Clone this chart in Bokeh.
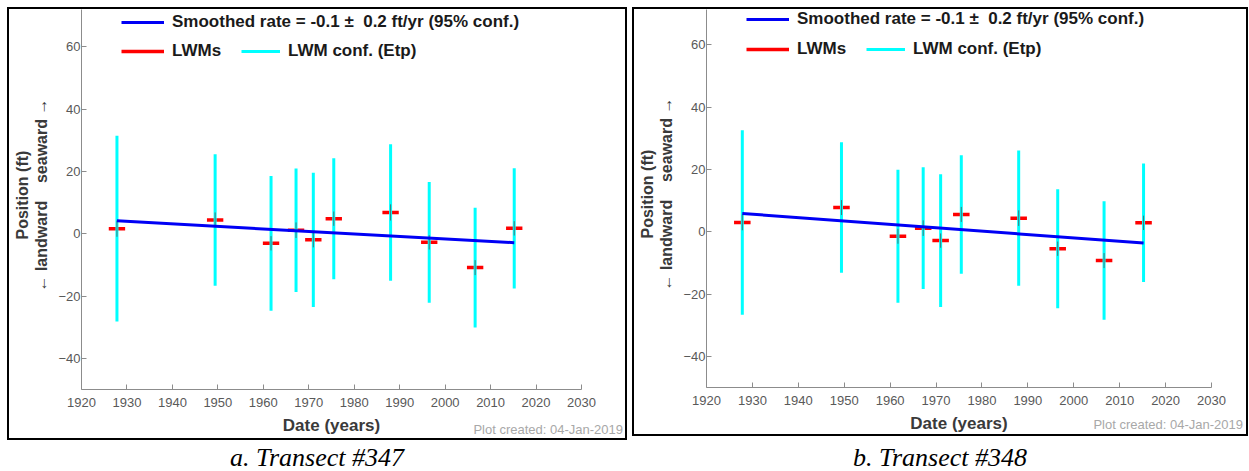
from bokeh.plotting import figure
from bokeh.models import Legend, LegendItem, Div, FixedTicker, Range1d, LinearAxis, Spacer
from bokeh.layouts import row, column
from bokeh.embed import file_html
from bokeh.resources import INLINE

# ---------------- data ----------------
years = [1927.8, 1949.4, 1961.7, 1967.2, 1971.0, 1975.5, 1988.0, 1996.5, 2006.6, 2015.2]

lwm_347 = [1.7, 4.5, -3.0, 1.2, -1.9, 4.9, 6.9, -2.7, -10.8, 1.8]
conf_347 = [29.8, 21.1, 21.6, 19.8, 21.5, 19.4, 21.9, 19.4, 19.2, 19.3]
unc_347 = [2.6, 2.4, 2.3, 2.5, 2.4, 2.3, 2.6, 2.3, 2.4, 2.3]
trend_347 = [4.2, -2.8]

lwm_348 = [3.0, 7.8, -1.4, 1.2, -2.8, 5.6, 4.4, -5.4, -9.2, 2.9]
conf_348 = [29.6, 20.9, 21.3, 19.5, 21.3, 19.0, 21.7, 19.1, 19.0, 19.0]
unc_348 = [2.5, 2.4, 2.4, 2.5, 2.3, 2.4, 2.5, 2.3, 2.4, 2.3]
trend_348 = [5.9, -3.6]

trend_years = [1927.8, 2015.2]

x_ticks = [1920, 1930, 1940, 1950, 1960, 1970, 1980, 1990, 2000, 2010, 2020, 2030]
y_ticks = [-40, -20, 0, 20, 40, 60]

rate_label = "Smoothed rate = -0.1 \u00b1\u00a0 0.2 ft/yr (95% conf.)"
lwm_label = "LWMs"
conf_label = "LWM conf. (Etp)"
x_label = "Date (years)"
y_label1 = "\u00a0\u00a0Position (ft)"
y_label2 = "\u00a0\u00a0\u2190 landward\u00a0\u00a0\u00a0\u00a0seaward \u2192"
created = "Plot created: 04-Jan-2019"
captions = ["a. Transect #347", "b. Transect #348"]

FONT = "Liberation Sans"
BLUE = "#0000F5"
RED = "#FF0000"
CYAN = "#00FFFF"
AXIS = "#8c8c8c"
DASH_HALF = 1.8  # half length of the LWM dash, in years


def panel(lwm, conf, unc, trend, y_lo, y_hi, w, h, mb_left, mb_right, mb_bottom, leg_rows):
    p = figure(width=w, height=h, output_backend="svg", toolbar_location=None,
               title=None, x_range=Range1d(1920, 2030), y_range=Range1d(y_lo, y_hi),
               min_border_left=mb_left, min_border_right=mb_right,
               min_border_top=0, min_border_bottom=mb_bottom,
               outline_line_color=None, background_fill_color="white",
               border_fill_color="white")
    p.styles = {"border": "2px solid black", "box-sizing": "content-box"}
    frame_h = h - mb_bottom

    lo = [m - c for m, c in zip(lwm, conf)]
    hi = [m + c for m, c in zip(lwm, conf)]
    ulo = [m - u for m, u in zip(lwm, unc)]
    uhi = [m + u for m, u in zip(lwm, unc)]
    dx0 = [x - DASH_HALF for x in years]
    dx1 = [x + DASH_HALF for x in years]

    dashes = p.segment(x0=dx0, y0=lwm, x1=dx1, y1=lwm, line_width=3.5, line_color=RED)
    bars = p.segment(x0=years, y0=lo, x1=years, y1=hi, line_width=3, line_color=CYAN)
    p.segment(x0=years, y0=ulo, x1=years, y1=uhi, line_width=1, line_color="#555555",
              line_alpha=0.8)
    tl = p.line(trend_years, trend, line_width=3, line_color=BLUE)

    def add_leg(rend, label, vx, center, gw):
        lg = Legend(items=[LegendItem(label=label, renderers=[rend])],
                    location=(vx, frame_h - center - 11), orientation="horizontal",
                    padding=0, margin=0, spacing=0, label_standoff=8,
                    glyph_width=gw, glyph_height=22, label_height=22,
                    border_line_color=None, background_fill_alpha=0,
                    label_text_font=FONT, label_text_font_size="17px",
                    label_text_font_style="bold", label_text_color="#1a1a1a")
        p.add_layout(lg)

    add_leg(tl, rate_label, 40, leg_rows[0], 43)
    add_leg(dashes, lwm_label, 40, leg_rows[1], 43)
    add_leg(bars, conf_label, 160, leg_rows[1], 39)

    for ax in (p.xaxis[0], p.yaxis[0]):
        ax.axis_line_color = AXIS
        ax.major_tick_line_color = AXIS
        ax.minor_tick_line_color = None
        ax.major_tick_in = 5
        ax.major_tick_out = 0
        ax.major_label_text_font = FONT
        ax.major_label_text_font_size = "13px"
        ax.major_label_text_color = "#595959"
        ax.axis_label_text_font = FONT
        ax.axis_label_text_font_style = "bold"
        ax.axis_label_text_color = "#3a3a3a"
    p.xaxis.ticker = FixedTicker(ticks=x_ticks)
    p.yaxis.ticker = FixedTicker(ticks=y_ticks)
    p.xaxis.major_label_standoff = 8
    p.yaxis.major_label_standoff = 1
    p.xaxis.axis_label = x_label
    p.xaxis.axis_label_standoff = 6
    p.xaxis.axis_label_text_font_size = "17px"
    p.yaxis.axis_label = y_label2
    p.yaxis.axis_label_standoff = 5
    p.yaxis.axis_label_text_font_size = "16px"

    outer = LinearAxis(ticker=FixedTicker(ticks=[]), axis_label=y_label1,
                       axis_line_color=None, major_tick_line_color=None,
                       minor_tick_line_color=None, major_tick_in=0, major_tick_out=0,
                       major_label_standoff=0, axis_label_standoff=0,
                       axis_label_text_font=FONT, axis_label_text_font_size="16px",
                       axis_label_text_font_style="bold", axis_label_text_color="#3a3a3a")
    p.add_layout(outer, "left")

    p.xgrid.visible = False
    p.ygrid.visible = False
    return p


p1 = panel(lwm_347, conf_347, unc_347, trend_347, -49.9, 72.0, 616, 429, 72, 48, 53,
           (9, 37.5))
p2 = panel(lwm_348, conf_348, unc_348, trend_348, -49.9, 71.3, 612, 425, 72, 39, 51,
           (5.5, 35.5))

cap_style = {"font-family": "'Liberation Serif', 'Times New Roman', serif",
             "font-style": "italic", "font-size": "26px", "color": "#000000"}


def caption(text, w, h, cap_top, cr_right, cr_top):
    html = ('<div style="position:relative;width:%dpx;height:%dpx;">'
            '<div style="position:absolute;right:%dpx;top:%dpx;font-family:\'Liberation Sans\',Arial,sans-serif;'
            'font-size:13px;line-height:15px;color:#a8a8a8;white-space:nowrap;font-style:normal;'
            'background:transparent;">%s</div>'
            '<div style="position:absolute;left:0;top:%dpx;width:%dpx;text-align:center;'
            'line-height:26px;white-space:nowrap;">%s</div></div>'
            % (w, h, cr_right, cr_top, created, cap_top, w, text))
    return Div(text=html, width=w, height=h, margin=0, styles=cap_style)


cap1 = caption(captions[0], 620, 28, 5, 4, -18)
cap2 = caption(captions[1], 616, 32, 9, 5, -19)

content = row(column(p1, cap1, spacing=0), column(p2, cap2, spacing=0), spacing=5)
layout = column(Spacer(height=7), row(Spacer(width=7), content))

open("out.html", "w").write(file_html(layout, INLINE))
